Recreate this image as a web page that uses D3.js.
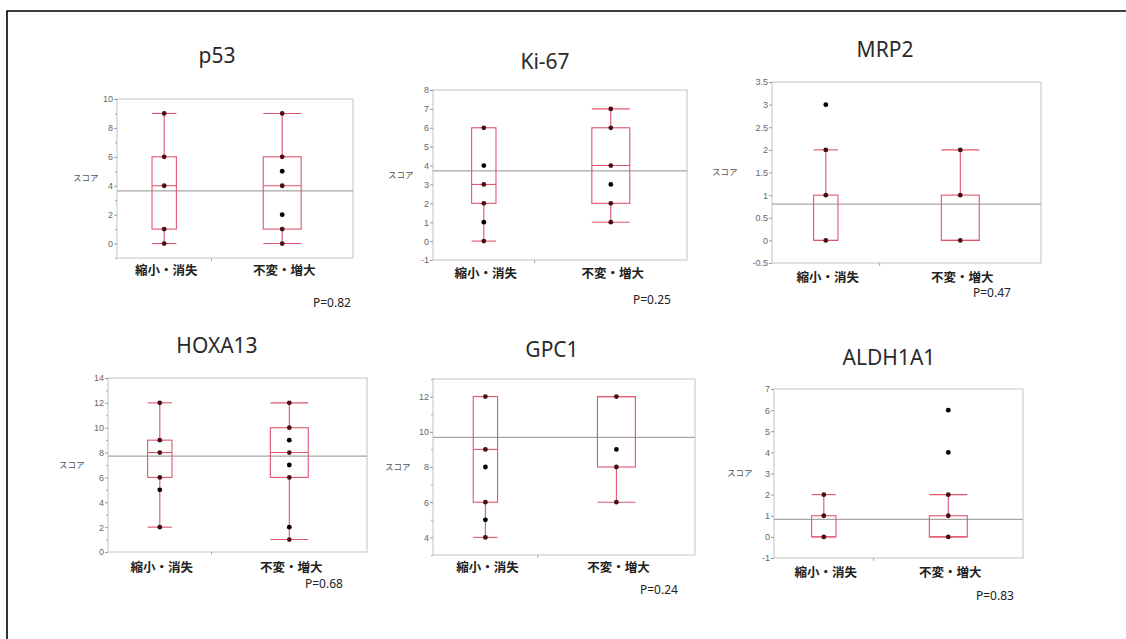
<!DOCTYPE html>
<html>
<head>
<meta charset="utf-8">
<script src="https://cdn.jsdelivr.net/npm/d3@7"></script>
<style>
    html, body { margin: 0; padding: 0; background: #fff; }
    svg { display: block; }
</style>
</head>
<body>
<div id="chart"></div>
<script>
/**** DATA ****/

var genes = ["p53", "Ki-67", "MRP2", "HOXA13", "GPC1", "ALDH1A1"];
var groups = ["縮小・消失", "不変・増大"];
// estimated group sizes (box width is proportional to sqrt(n))
var groupSizes = [7, 17];
var pValues = ["P=0.82", "P=0.25", "P=0.47", "P=0.68", "P=0.24", "P=0.83"];
// grand mean of each score
var grandMeans = [3.65, 3.72, 0.8, 7.72, 9.68, 0.83];

// distinct observed scores per gene, per group
var points = [
    [[9, 6, 4, 1, 0], [9, 6, 5, 4, 2, 1, 0]],
    [[6, 4, 3, 2, 1, 0], [7, 6, 4, 3, 2, 1]],
    [[3, 2, 1, 0], [2, 1, 0]],
    [[12, 9, 8, 6, 5, 2], [12, 10, 9, 8, 7, 6, 2, 1]],
    [[12, 9, 8, 6, 5, 4], [12, 9, 8, 6]],
    [[2, 1, 0], [6, 4, 2, 1, 0]]
];

// box stats per gene, per group: [low whisker, q1, median, q3, high whisker]
var boxStats = [
    [[0, 1, 4, 6, 9], [0, 1, 4, 6, 9]],
    [[0, 2, 3, 6, 6], [1, 2, 4, 6, 7]],
    [[0, 0, 0, 1, 2], [0, 0, 0, 1, 2]],
    [[2, 6, 8, 9, 12], [1, 6, 8, 10, 12]],
    [[4, 6, 9, 12, 12], [6, 8, 12, 12, 12]],
    [[0, 0, 0, 1, 2], [0, 0, 0, 1, 2]]
];

var yDomains = [[-1, 10], [-1, 8], [-0.5, 3.5], [0, 14], [3, 13], [-1, 7]];
var yTicks = [
    [0, 2, 4, 6, 8, 10],
    [-1, 0, 1, 2, 3, 4, 5, 6, 7, 8],
    [-0.5, 0, 0.5, 1, 1.5, 2, 2.5, 3, 3.5],
    [0, 2, 4, 6, 8, 10, 12, 14],
    [4, 6, 8, 10, 12],
    [-1, 0, 1, 2, 3, 4, 5, 6, 7]
];
var yMinorTicks = [
    [-1, 1, 3, 5, 7, 9],
    [],
    [],
    [1, 3, 5, 7, 9, 11, 13],
    [3, 5, 7, 9, 11, 13],
    []
];
var yTitle = "スコア";

/**** LAYOUT ****/

var WIDTH = 1126;
var HEIGHT = 639;
var BOX_RED = "#e0566e";
var DOT_ON_LINE = "#4a0c18";
var FRAME_GRAY = "#cdcdcd";
var MEAN_GRAY = "#a6a6a6";
var TICK_FONT = "'Liberation Sans', Arial, sans-serif";
var TITLE_FONT = "'Noto Sans', 'Open Sans', sans-serif";
var CJK_FONT = "'Noto Sans CJK JP', 'Noto Sans', sans-serif";

// frame = [left, top, right, bottom]; text anchors in pixels
var layout = [
    {frame: [117, 99, 353, 258], titleX: 217, titleY: 63, yTitleX: 73, yTitleY: 181, groupY: 275, pX: 313, pY: 307},
    {frame: [433, 90, 687, 260], titleX: 545, titleY: 69, yTitleX: 388, yTitleY: 178, groupY: 278, pX: 633, pY: 304},
    {frame: [772, 82, 1041, 263], titleX: 885, titleY: 57, yTitleX: 712, yTitleY: 175, groupY: 282, pX: 973, pY: 297},
    {frame: [108, 378, 367, 552], titleX: 217, titleY: 353, yTitleX: 59, yTitleY: 468, groupY: 572, pX: 305, pY: 588},
    {frame: [433, 379, 695, 555], titleX: 552, titleY: 357, yTitleX: 385, yTitleY: 470, groupY: 572, pX: 640, pY: 594},
    {frame: [774, 389, 1023, 558], titleX: 889, titleY: 365, yTitleX: 727, yTitleY: 476, groupY: 577, pX: 976, pY: 600}
];

var svg = d3.select("#chart")
    .append("svg")
    .attr("width", WIDTH)
    .attr("height", HEIGHT);

svg.append("rect")
    .attr("width", WIDTH)
    .attr("height", HEIGHT)
    .attr("fill", "#fff");

// outer border (only top and left edges are inside the picture)
svg.append("path")
    .attr("d", "M7," + HEIGHT + "V11H" + WIDTH)
    .attr("fill", "none")
    .attr("stroke", "#000")
    .attr("stroke-width", 1.6);

/**
 * Draws one box plot panel
 *
 * @param {int} i -- index of the gene
 */
function drawPanel(i) {
    var L = layout[i];
    var f = L.frame;
    var g = svg.append("g").attr("class", "panel panel-" + i);

    var y = d3.scaleLinear().domain(yDomains[i]).range([f[3], f[1]]);
    // group index -> x; groups sit at 20% and 70% of the frame
    var x = d3.scaleLinear().domain([-0.4, 1.6]).range([f[0], f[2]]);

    // title
    g.append("text")
        .attr("x", L.titleX)
        .attr("y", L.titleY)
        .attr("text-anchor", "middle")
        .attr("font-family", TITLE_FONT)
        .attr("font-weight", 400)
        .attr("font-size", 21)
        .attr("fill", "#2a2a2a")
        .text(genes[i]);

    // frame
    g.append("rect")
        .attr("x", f[0])
        .attr("y", f[1])
        .attr("width", f[2] - f[0])
        .attr("height", f[3] - f[1])
        .attr("fill", "none")
        .attr("stroke", FRAME_GRAY)
        .attr("stroke-width", 1.2);

    // y axis
    var axis = d3.axisLeft(y)
        .tickValues(yTicks[i])
        .tickSize(3)
        .tickPadding(1)
        .tickFormat(function(d) { return String(d); });
    var axisG = g.append("g")
        .attr("transform", "translate(" + f[0] + ",0)")
        .call(axis);
    axisG.select(".domain").remove();
    axisG.selectAll(".tick line").attr("stroke", "#999");
    axisG.selectAll(".tick text")
        .attr("font-family", TICK_FONT)
        .attr("font-size", 9)
        .attr("fill", "#666");

    var minor = d3.axisLeft(y)
        .tickValues(yMinorTicks[i])
        .tickSize(2)
        .tickFormat("");
    var minorG = g.append("g")
        .attr("transform", "translate(" + f[0] + ",0)")
        .call(minor);
    minorG.select(".domain").remove();
    minorG.selectAll(".tick line").attr("stroke", "#aaa");

    // small tick between groups on the bottom edge
    g.append("line")
        .attr("x1", x(0.4)).attr("x2", x(0.4))
        .attr("y1", f[3]).attr("y2", f[3] + 3)
        .attr("stroke", "#aaa");

    g.append("text")
        .attr("x", L.yTitleX)
        .attr("y", L.yTitleY)
        .attr("font-family", CJK_FONT)
        .attr("font-size", 8.5)
        .attr("fill", "#555")
        .text(yTitle);

    // grand mean line
    g.append("line")
        .attr("x1", f[0]).attr("x2", f[2])
        .attr("y1", y(grandMeans[i])).attr("y2", y(grandMeans[i]))
        .attr("stroke", MEAN_GRAY)
        .attr("stroke-width", 1.2);

    groups.forEach(function(name, j) {
        var s = boxStats[i][j];
        var cx = x(j);
        var half = 4.6 * Math.sqrt(groupSizes[j]);
        var box = g.append("g")
            .attr("fill", "none")
            .attr("stroke", BOX_RED)
            .attr("stroke-width", 1.1);

        box.append("rect")
            .attr("x", cx - half)
            .attr("y", y(s[3]))
            .attr("width", 2 * half)
            .attr("height", y(s[1]) - y(s[3]));
        box.append("line")
            .attr("x1", cx - half).attr("x2", cx + half)
            .attr("y1", y(s[2])).attr("y2", y(s[2]));
        // whiskers and caps
        [[s[3], s[4]], [s[1], s[0]]].forEach(function(w) {
            if (w[0] === w[1]) {
                return;
            }
            box.append("line")
                .attr("x1", cx).attr("x2", cx)
                .attr("y1", y(w[0])).attr("y2", y(w[1]));
            box.append("line")
                .attr("x1", cx - half).attr("x2", cx + half)
                .attr("y1", y(w[1])).attr("y2", y(w[1]));
        });

        g.selectAll(null)
            .data(points[i][j])
            .enter()
            .append("circle")
            .attr("cx", cx)
            .attr("cy", function(d) { return y(d); })
            .attr("r", 2.4)
            .attr("fill", function(d) {
                return s.indexOf(d) !== -1 ? DOT_ON_LINE : "#000";
            });

        g.append("text")
            .attr("x", cx + 2)
            .attr("y", L.groupY)
            .attr("text-anchor", "middle")
            .attr("font-family", CJK_FONT)
            .attr("font-weight", 700)
            .attr("font-size", 12.5)
            .attr("fill", "#222")
            .text(name);
    });

    g.append("text")
        .attr("x", L.pX)
        .attr("y", L.pY)
        .attr("font-family", TITLE_FONT)
        .attr("font-size", 12)
        .attr("fill", "#222")
        .text(pValues[i]);
}

genes.forEach(function(d, i) {
    drawPanel(i);
});
</script>
</body>
</html>
